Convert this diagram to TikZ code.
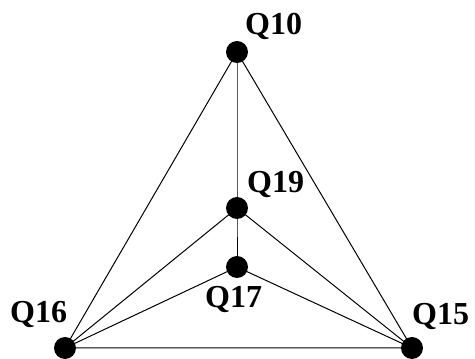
\documentclass[tikz,border=0pt]{standalone}
\usepackage{fontspec}
\setmainfont{Liberation Serif}
\begin{document}
\begin{tikzpicture}[x=1pt,y=1pt,
  vertex/.style={circle,fill=black,inner sep=0pt,minimum size=22pt},
  lbl/.style={anchor=base west,inner sep=0pt,font=\fontsize{32}{32}\selectfont\bfseries},
  edge/.style={line width=1pt}]
\useasboundingbox (0,0) rectangle (475,359);
\coordinate (Q10) at (237,307);
\coordinate (Q19) at (237,151);
\coordinate (Q17) at (237,92);
\coordinate (Q16) at (65,11);
\coordinate (Q15) at (412,11);
\draw[edge] (Q10) -- (Q19) -- (Q17);
\draw[edge] (Q16) -- (Q10) -- (Q15) -- (Q16);
\draw[edge] (Q16) -- (Q19) -- (Q15);
\draw[edge] (Q16) -- (Q17) -- (Q15);
\foreach \n in {Q10,Q19,Q17,Q16,Q15}{\node[vertex] (d\n) at (\n) {};}
\node[lbl] (t10) at (245,324) {Q10};
\node[lbl] (t19) at (247,166) {Q19};
\node[lbl] (t17) at (205,51) {Q17};
\node[lbl] (t16) at (10,36) {Q16};
\node[lbl] (t15) at (412,34) {Q15};
\end{tikzpicture}
\end{document}
